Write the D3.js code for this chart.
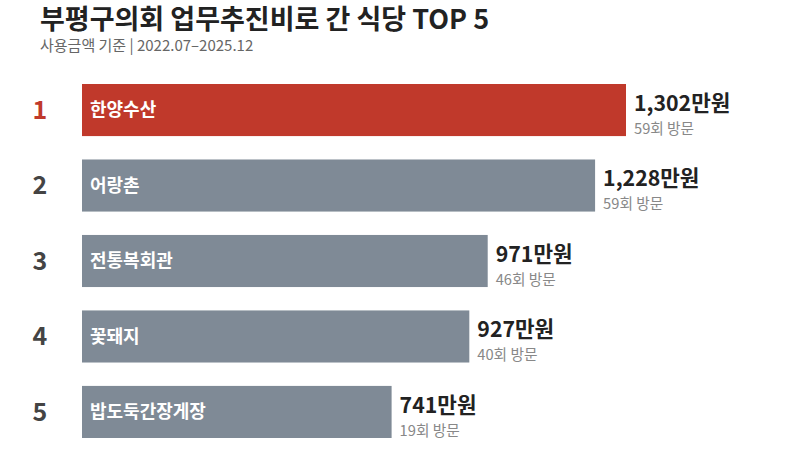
<!DOCTYPE html>
<html><head><meta charset="utf-8">
<script src="https://cdn.jsdelivr.net/npm/d3@7"></script>
<style>
body{margin:0;background:#fff;}
text{font-family:"Noto Sans CJK KR","Noto Sans",sans-serif;}
</style></head>
<body><svg id="c" width="800" height="464"></svg>
<script>
const names = ["한양수산","어랑촌","전통복회관","꽃돼지","밥도둑간장게장"];
const amounts = [1302,1228,971,927,741];
const visits = [59,59,46,40,19];
const ranks = [1,2,3,4,5];

const svg = d3.select("#c");
const x = d3.scaleLinear().domain([0,1302]).range([82,626]);
const y = d3.scaleBand().domain(ranks).range([84,438]).paddingInner(0.31).paddingOuter(0);

svg.append("text").attr("x",40).attr("y",29).attr("font-size",27).attr("font-weight",700).attr("fill","#222")
  .text("부평구의회 업무추진비로 간 식당 TOP 5");
svg.append("text").attr("x",40).attr("y",51).attr("font-size",15).attr("fill","#666")
  .text("사용금액 기준 | 2022.07–2025.12");

const data = ranks.map((r,i)=>({r,name:names[i],amt:amounts[i],v:visits[i]}));
const g = svg.selectAll("g.row").data(data).enter().append("g");
g.append("rect").attr("x",x(0)).attr("y",d=>y(d.r)).attr("width",d=>x(d.amt)-x(0)).attr("height",y.bandwidth())
  .attr("fill",d=>d.r===1?"#c0392b":"#7f8a96");
g.append("text").attr("x",40).attr("y",d=>y(d.r)+y.bandwidth()/2).attr("dy","0.35em").attr("text-anchor","middle")
  .attr("font-size",25).attr("font-weight",700).attr("fill",d=>d.r===1?"#c0392b":"#444").text(d=>d.r);
g.append("text").attr("x",x(0)+8).attr("y",d=>y(d.r)+y.bandwidth()/2).attr("dy","0.35em")
  .attr("font-size",18).attr("font-weight",700).attr("fill","#fff").text(d=>d.name);
g.append("text").attr("x",d=>x(d.amt)+8).attr("y",d=>y(d.r)+27).attr("font-size",21.3).attr("font-weight",700).attr("fill","#222")
  .text(d=>d3.format(",")(d.amt)+"만원");
g.append("text").attr("x",d=>x(d.amt)+8).attr("y",d=>y(d.r)+50).attr("font-size",14.7).attr("fill","#888")
  .text(d=>d.v+"회 방문");
</script></body></html>
